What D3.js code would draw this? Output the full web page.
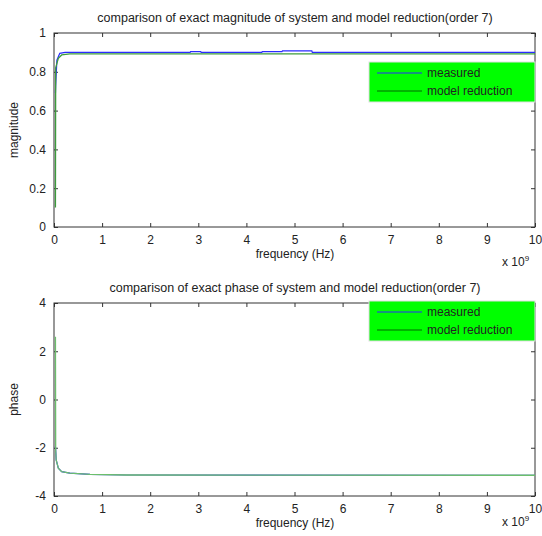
<!DOCTYPE html>
<html>
<head>
<meta charset="utf-8">
<script src="https://cdnjs.cloudflare.com/ajax/libs/d3/7.8.5/d3.min.js"></script>
<style>
    body { margin: 0; background: #fff; }
    svg text { font-family: "Liberation Sans", Arial, sans-serif; font-size: 12px; fill: #222; }
</style>
</head>
<body>
<svg id="chart" width="542" height="536"></svg>
<script>
// frequency in units of 1e9 Hz
const xTickValues = [0, 1, 2, 3, 4, 5, 6, 7, 8, 9, 10];
const magTickValues = [0, 0.2, 0.4, 0.6, 0.8, 1];
const phaseTickValues = [-4, -2, 0, 2, 4];

const magMeasuredFreq = [0.03, 0.035, 0.06, 0.12, 0.23, 2.83, 2.84, 3.05, 3.06, 4.32, 4.33, 4.74, 4.75, 5.36, 5.37, 10];
const magMeasured = [0.69, 0.73, 0.86, 0.895, 0.90, 0.90, 0.904, 0.904, 0.90, 0.90, 0.904, 0.904, 0.908, 0.908, 0.90, 0.90];
const magModelFreq = [0.03, 0.035, 0.04, 0.09, 0.16, 0.33, 10];
const magModel = [0.1, 0.82, 0.825, 0.87, 0.887, 0.892, 0.892];

const phaseMeasuredFreq = [0.03, 0.035, 0.045, 0.09, 0.16, 0.33, 0.75, 1.5, 10];
const phaseMeasured = [-1.95, -2.1, -2.5, -2.85, -2.99, -3.05, -3.10, -3.13, -3.14];
const phaseModelFreq = [0.03, 0.035, 0.045, 0.09, 0.16, 0.33, 0.75, 1.5, 10];
const phaseModel = [2.6, -2.1, -2.5, -2.85, -2.99, -3.05, -3.10, -3.13, -3.14];

const legendLabels = ["measured", "model reduction"];

const svg = d3.select("#chart");
svg.append("rect").attr("width", 542).attr("height", 536).attr("fill", "#fff");

const zip = (xs, ys) => xs.map((x, i) => ({ x: x, y: ys[i] }));
const plainFormat = d => String(d);   // hyphen minus like matlab

const drawPanel = (opt) => {
    const x = d3.scaleLinear().domain([0, 10]).range([54, 535]);
    const y = d3.scaleLinear().domain(opt.yDomain).range([opt.bottom, opt.top]);
    const g = svg.append("g");

    //axes box with inward ticks on all four sides
    g.append("g")
        .attr("transform", `translate(0,${opt.bottom})`)
        .call(d3.axisBottom(x).tickValues(xTickValues).tickSize(-4).tickPadding(8).tickFormat(plainFormat))
        .call(a => a.select(".domain").remove());
    g.append("g")
        .attr("transform", `translate(0,${opt.top})`)
        .call(d3.axisTop(x).tickValues(xTickValues).tickSize(-4).tickFormat(""))
        .call(a => a.select(".domain").remove());
    g.append("g")
        .attr("transform", "translate(54,0)")
        .call(d3.axisLeft(y).tickValues(opt.yTicks).tickSize(-4).tickPadding(8).tickFormat(plainFormat))
        .call(a => a.select(".domain").remove());
    g.append("g")
        .attr("transform", "translate(535,0)")
        .call(d3.axisRight(y).tickValues(opt.yTicks).tickSize(-4).tickFormat(""))
        .call(a => a.select(".domain").remove());
    g.selectAll(".tick line").attr("stroke", "#333");
    g.selectAll(".tick text").style("font-size", "12px").attr("fill", "#222");

    g.append("rect")
        .attr("x", 54).attr("y", opt.top)
        .attr("width", 535 - 54).attr("height", opt.bottom - opt.top)
        .attr("fill", "none").attr("stroke", "#333");

    const line = d3.line().x(d => x(d.x)).y(d => y(d.y));

    g.append("path")
        .attr("d", line(zip(opt.measuredFreq, opt.measured)))
        .attr("fill", "none").attr("stroke", "#2b2bff").attr("stroke-width", 1.2);
    g.append("path")
        .attr("d", line(zip(opt.modelFreq, opt.model)))
        .attr("fill", "none").attr("stroke", opt.modelColor).attr("stroke-width", 1.3);

    //titles and labels
    g.append("text")
        .attr("x", 295).attr("y", opt.top - 11)
        .attr("text-anchor", "middle")
        .style("font-size", "12.5px")
        .text(opt.title);
    g.append("text")
        .attr("x", 295).attr("y", opt.bottom + 31)
        .attr("text-anchor", "middle")
        .text("frequency (Hz)");
    g.append("text")
        .attr("transform", `translate(18,${(opt.top + opt.bottom) / 2}) rotate(-90)`)
        .attr("text-anchor", "middle")
        .text(opt.yLabel);
    const exp = g.append("text")
        .attr("x", 502).attr("y", opt.bottom + opt.expOffset);
    exp.append("tspan").text("x 10");
    exp.append("tspan").attr("dy", -5).style("font-size", "8px").text("9");

    //legend
    const lg = g.append("g")
        .attr("transform", `translate(369,${opt.legendTop})`);
    lg.append("rect")
        .attr("width", 166).attr("height", 40)
        .attr("fill", "#00ff00").attr("stroke", "#e0e0e0");
    const item = lg.selectAll(".item")
        .data(legendLabels)
        .enter()
        .append("g")
        .attr("transform", (d, i) => `translate(0,${11 + i * 18})`);
    item.append("line")
        .attr("x1", 8).attr("x2", 53)
        .attr("stroke", (d, i) => i === 0 ? "#2b2bff" : "#006a00");
    item.append("text")
        .attr("x", 58).attr("y", 4)
        .attr("fill", "#111")
        .text(d => d);
};

drawPanel({
    top: 33, bottom: 227,
    yDomain: [0, 1], yTicks: magTickValues,
    measuredFreq: magMeasuredFreq, measured: magMeasured,
    modelFreq: magModelFreq, model: magModel, modelColor: "#3c9c3c",
    title: "comparison of exact magnitude of system and model reduction(order 7)",
    yLabel: "magnitude", legendTop: 62, expOffset: 39
});

drawPanel({
    top: 303, bottom: 496,
    yDomain: [-4, 4], yTicks: phaseTickValues,
    measuredFreq: phaseMeasuredFreq, measured: phaseMeasured,
    modelFreq: phaseModelFreq, model: phaseModel, modelColor: "#6cbf6c",
    title: "comparison of exact phase of system and model reduction(order 7)",
    yLabel: "phase", legendTop: 301, expOffset: 30
});
</script>
</body>
</html>
